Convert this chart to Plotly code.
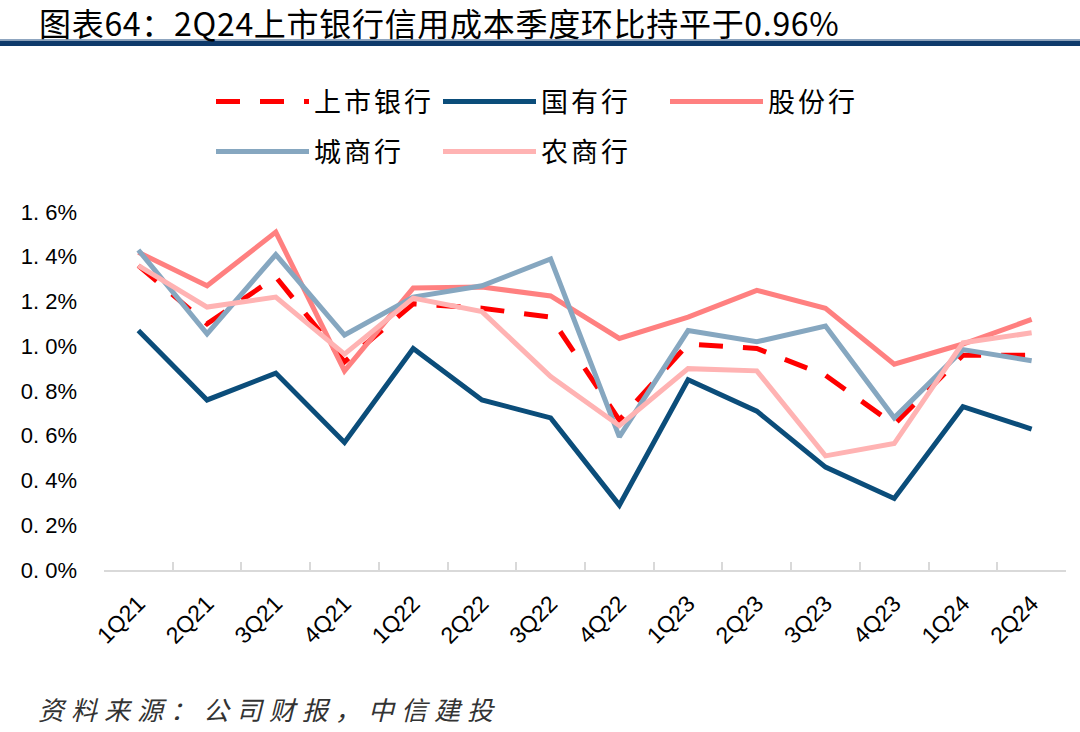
import plotly.graph_objects as go

categories = ["1Q21", "2Q21", "3Q21", "4Q21", "1Q22", "2Q22", "3Q22",
              "4Q22", "1Q23", "2Q23", "3Q23", "4Q23", "1Q24", "2Q24"]

listed_banks = [1.36, 1.10, 1.31, 0.93, 1.19, 1.17, 1.13, 0.67, 1.01, 0.99, 0.87, 0.65, 0.96, 0.96]
state_owned = [1.07, 0.76, 0.88, 0.57, 0.99, 0.76, 0.68, 0.29, 0.85, 0.71, 0.46, 0.32, 0.73, 0.63]
joint_stock = [1.42, 1.27, 1.51, 0.89, 1.26, 1.265, 1.225, 1.035, 1.13, 1.25, 1.17, 0.92, 1.01, 1.12]
city_comm = [1.43, 1.055, 1.41, 1.05, 1.22, 1.27, 1.39, 0.595, 1.07, 1.02, 1.09, 0.68, 0.985, 0.935]
rural_comm = [1.36, 1.175, 1.22, 0.965, 1.215, 1.155, 0.865, 0.645, 0.90, 0.89, 0.51, 0.565, 1.015, 1.06]

names = ["上市银行", "国有行", "股份行", "城商行", "农商行"]
colors = ["#FF0000", "#0B4D7A", "#FF8080", "#86A7C0", "#FFB3B3"]

yticks = [0.0, 0.2, 0.4, 0.6, 0.8, 1.0, 1.2, 1.4, 1.6]
yticktext = ["0. 0%", "0. 2%", "0. 4%", "0. 6%", "0. 8%", "1. 0%", "1. 2%", "1. 4%", "1. 6%"]

title_text = "图表64：2Q24上市银行信用成本季度环比持平于0.96%"
source_text = "资料来源：公司财报，中信建投"

# plot-area geometry in pixels
W, H = 1080, 732
L, R, T, B = 104, 14, 212, 162
PW, PH = W - L - R, H - T - B


def px_x(x):
    return (x - L) / PW


def px_y(y):
    return (H - B - y) / PH


fig = go.Figure()
series = [listed_banks, state_owned, joint_stock, city_comm, rural_comm]
legends = ["legend", "legend", "legend", "legend2", "legend2"]
for i, (nm, vals, col, lg) in enumerate(zip(names, series, colors, legends)):
    fig.add_trace(go.Scatter(
        x=categories, y=vals,
        name='<span style="letter-spacing:3px">' + nm + '</span>',
        mode="lines",
        line=dict(color=col, width=5, dash="24px,20px" if i == 0 else "solid"),
        legend=lg,
    ))

CJK = "Noto Sans CJK SC"
leg_common = dict(orientation="h", xref="container", yref="container",
                  xanchor="left", yanchor="middle",
                  entrywidth=119, entrywidthmode="pixels", itemwidth=93,
                  font=dict(size=27, family=CJK, color="#000000"),
                  bgcolor="rgba(0,0,0,0)")
fig.update_layout(
    width=W, height=H,
    paper_bgcolor="white", plot_bgcolor="white",
    margin=dict(l=L, r=R, t=T, b=B, autoexpand=False),
    font=dict(family=CJK, color="#000000"),
    legend=dict(x=211 / W, y=1 - 102 / H, **leg_common),
    legend2=dict(x=211 / W, y=1 - 152 / H, **leg_common),
    xaxis=dict(type="category", range=[-0.5, 13.5], automargin=False,
               tickangle=-45, showgrid=False,
               showline=True, linecolor="#D9D9D9", linewidth=2,
               ticks="inside", ticklen=8, tickcolor="#D9D9D9", tickwidth=2,
               tickson="boundaries", ticklabelstandoff=9,
               tickfont=dict(family="Liberation Sans", size=23, color="#000000")),
    yaxis=dict(range=[0, 1.6], automargin=False, tickvals=yticks,
               ticktext=yticktext,
               showgrid=False, zeroline=False, showline=False,
               ticklabelstandoff=26,
               tickfont=dict(family="Liberation Sans", size=22, color="#000000")),
)

fig.add_annotation(text='<span style="letter-spacing:0.7px">' + title_text + '</span>',
                   xref="paper", yref="paper",
                   x=px_x(37), y=px_y(22), xanchor="left", yanchor="middle",
                   showarrow=False,
                   font=dict(size=32, family=CJK, color="#000000"))
fig.add_annotation(text='<span style="letter-spacing:7px">' + source_text + '</span>',
                   xref="paper", yref="paper", x=px_x(36), y=px_y(708),
                   xanchor="left", yanchor="middle", showarrow=False,
                   font=dict(size=26, family=CJK, color="#333333", style="italic"))
fig.add_shape(type="rect", xref="paper", yref="paper",
              x0=px_x(0), x1=px_x(W), y0=px_y(46), y1=px_y(40.5),
              line=dict(width=0), fillcolor="#0E3A6B", layer="above")
fig.add_shape(type="rect", xref="paper", yref="paper",
              x0=px_x(0), x1=px_x(W), y0=px_y(40.5), y1=px_y(39),
              line=dict(width=0), fillcolor="#8FA6C0", layer="above")

fig.write_html("out.html", config={"displayModeBar": False},
               post_script="document.body.style.margin='0px';")
